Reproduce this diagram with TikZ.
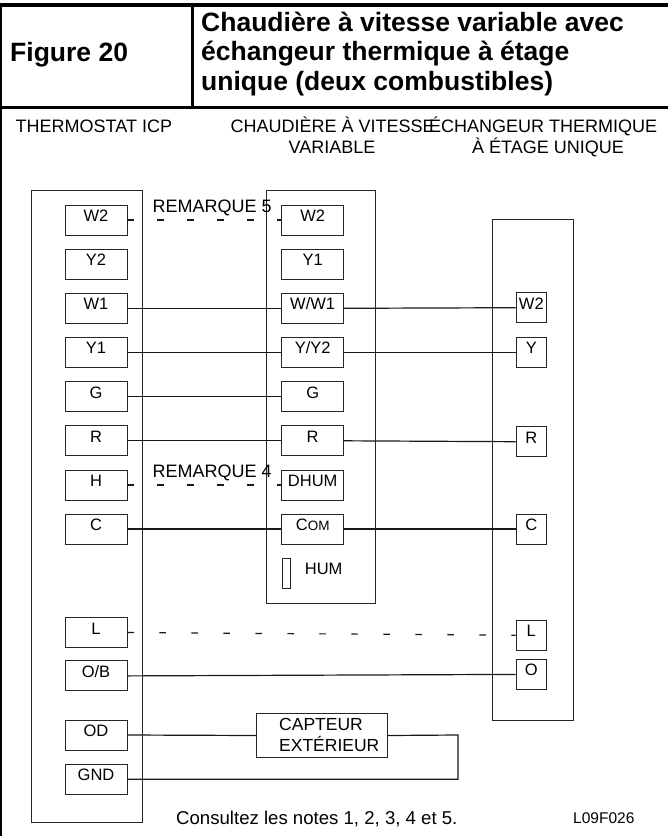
\documentclass[tikz,border=0pt]{standalone}
\usepackage{fontspec}
\setmainfont{Liberation Sans}
\newcommand{\lbl}{\fontsize{16.5}{19}\selectfont}
\newcommand{\txt}{\fontsize{18}{21}\selectfont}
\tikzset{
  frameline/.style={line width=3.4pt,black},
  unit/.style={draw=black!85,line width=0.9pt},
  termL/.style={draw=black!85,line width=0.9pt,inner sep=0pt,minimum width=62pt,minimum height=30pt,font=\lbl,text height=11pt,text depth=8pt,align=center},
  termR/.style={termL,minimum width=30.6pt},
  wire/.style={line width=1.2pt,black!90},
  dwireA/.style={wire,dash pattern=on 6.5pt off 23.5pt},
  dwireB/.style={wire,dash pattern=on 6.5pt off 25.5pt},
  free/.style={inner sep=0pt,font=\txt,align=center},
  head/.style={inner sep=0pt,anchor=base west,font=\fontsize{26.5}{29.5}\selectfont\bfseries,align=left}
}
\begin{document}
\begin{tikzpicture}[x=1pt,y=-1pt]
\useasboundingbox (0,0) rectangle (668,836);
% frame
\draw[frameline] (0,5) -- (668,5);
\draw[frameline] (0,107.5) -- (668,107.5);
\draw[frameline] (192.2,5) -- (192.2,107.5);
\draw[line width=4pt] (0,3) -- (0,836);
% header
\node[head] (fig) at (10,61.5) {Figure 20};
\node[head] (t1) at (201,31) {Chaudière à vitesse variable avec};
\node[head] (t2) at (201,60.5) {échangeur thermique à étage};
\node[head] (t3) at (201,90) {unique (deux combustibles)};
% captions
\node[free,anchor=base west] (capa) at (15.5,132.7) {THERMOSTAT ICP};
\node[free,anchor=base west] (capb) at (230.5,132.7) {CHAUDIÈRE À VITESSE};
\node[free,anchor=base] (capc) at (332,153) {VARIABLE};
\node[free,anchor=base west] (capd) at (429,132.7) {ÉCHANGEUR THERMIQUE};
\node[free,anchor=base] (cape) at (548,153) {À ÉTAGE UNIQUE};
% units
\node[unit,minimum width=111pt,minimum height=632pt,inner sep=0pt] (uA) at (87,506.7) {};
\node[unit,minimum width=108.7pt,minimum height=412.3pt,inner sep=0pt] (uB) at (321,396.85) {};
\node[unit,minimum width=81.5pt,minimum height=500.6pt,inner sep=0pt] (uC) at (532.75,470) {};
% left terminals
\foreach \n/\t/\y in {aW2/W2/220,aY2/Y2/264,aW1/W1/308.3,aY1/Y1/352.3,aG/G/396.5,aR/R/440.8,aH/H/485,aC/C/529,aL/L/632.5,aOB/O\slash B/675.9,aOD/OD/735,aGND/GND/779.3}
  {\node[termL] (\n) at (96,\y) {\t};}
% middle terminals
\foreach \n/\t/\y in {bW2/W2/220,bY1/Y1/264,bW1/W\slash W1/308.3,bY2/Y\slash Y2/352.3,bG/G/396.5,bR/R/440.8,bH/DHUM/485,bC/{C{\fontsize{13.5}{15}\selectfont OM}}/529}
  {\node[termL] (\n) at (312.7,\y) {\t};}
% right terminals
\foreach \n/\t/\y in {cW2/W2/307.7,cY/Y/352.3,cR/R/441.7,cC/C/529,cL/L/635.2,cO/O/674.4}
  {\node[termR] (\n) at (531.3,\y) {\t};}
% hum
\node[draw=black!85,line width=0.9pt,minimum width=8pt,minimum height=29.3pt,inner sep=0pt] (hum) at (286,573.3) {};
\node[inner sep=0pt,font=\lbl,anchor=base] (humt) at (323.7,574) {HUM};
% sensor
\node[draw=black!85,line width=0.9pt,minimum width=131.2pt,minimum height=44.4pt,inner sep=0pt] (cap) at (322.1,735.5) {};
\node[inner sep=0pt,font=\fontsize{17.5}{20}\selectfont,anchor=base west] (capt1) at (279,730.5) {CAPTEUR};
\node[inner sep=0pt,font=\fontsize{17.5}{20}\selectfont,anchor=base west] (capt2) at (279,751.5) {EXTÉRIEUR};
\coordinate (corner1) at (458,735);
\coordinate (corner2) at (458,779.3);
% wires
\draw[wire] (aW1.east) -- (bW1.west);
\draw[wire] (bW1.east) -- (cW2.west);
\draw[wire] (aY1.east) -- (bY2.west);
\draw[wire] (bY2.east) -- (cY.west);
\draw[wire] (aG.east) -- (bG.west);
\draw[wire] (aR.east) -- (bR.west);
\draw[wire] (bR.east) -- (cR.west);
\draw[wire] (aC.east) -- (bC.west);
\draw[wire] (bC.east) -- (cC.west);
\draw[wire] (aOB.east) -- (cO.west);
\draw[wire] (aOD.east) -- (cap.west);
\draw[wire] (cap.east) -- (corner1) -- (corner2) -- (aGND.east);
\draw[dwireA] (aW2.east) -- (bW2.west);
\draw[dwireA] (aH.east) -- (bH.west);
\draw[dwireB] (aL.east) -- (cL.west);
% remarks
\node[free,anchor=base west] (r5) at (152.5,212.5) {REMARQUE 5};
\node[free,anchor=base west] (r4) at (152.5,477.5) {REMARQUE 4};
% foot
\node[free,anchor=base west,font=\fontsize{18.6}{21}\selectfont] (foot) at (176,824) {Consultez les notes 1, 2, 3, 4 et 5.};
\node[free,anchor=base west,font=\fontsize{15.5}{18}\selectfont] (code) at (573,823) {L09F026};
\end{tikzpicture}
\end{document}
